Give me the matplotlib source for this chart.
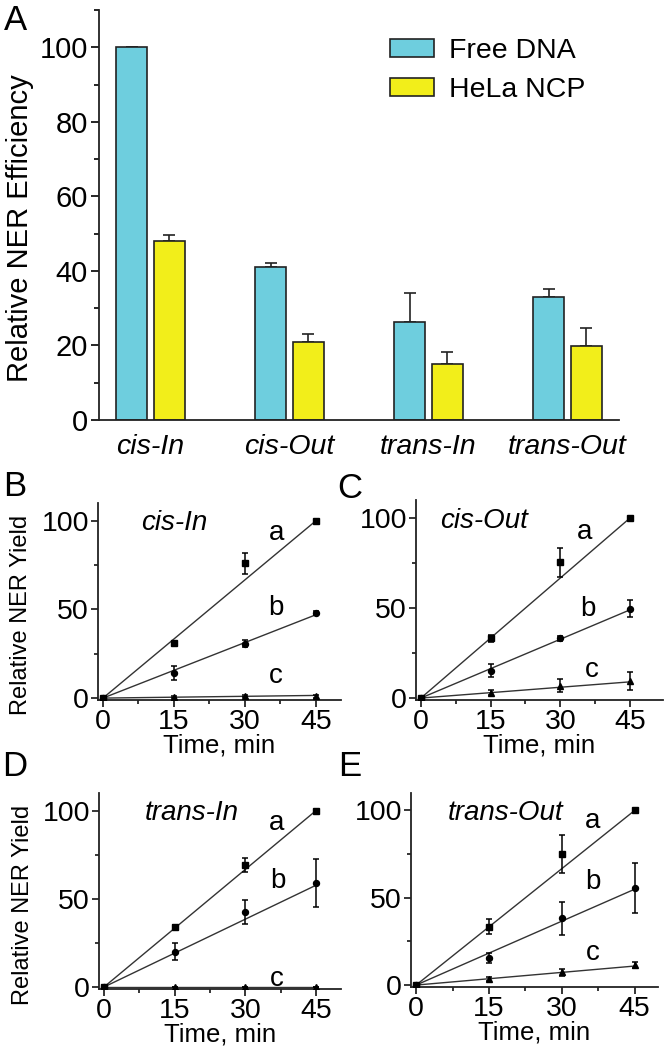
import matplotlib
matplotlib.use('Agg')
import matplotlib.pyplot as plt
from matplotlib.ticker import MultipleLocator

plt.rcParams['font.family'] = ['Liberation Sans', 'DejaVu Sans']

# panel A data
categories = ['cis-In', 'cis-Out', 'trans-In', 'trans-Out']
free_dna = [100, 41, 26.3, 32.9]
free_err = [0, 1.1, 7.9, 2.2]
hela_ncp = [48, 21, 15, 19.8]
hela_err = [1.6, 2.0, 3.3, 4.9]

# time course panels
time = [0, 15, 30, 45]

cisIn_a = [0, 31, 76, 100]
cisIn_a_err = [0, 1, 6, 0.5]
cisIn_b = [0, 14, 30.6, 48]
cisIn_b_err = [0, 4, 2, 1]
cisIn_c = [0, 0.5, 1, 1]
cisIn_c_err = [0, 0.5, 0.5, 1]
cisIn_fit = [100, 47, 1.5]

cisOut_a = [0, 33.1, 75.5, 100]
cisOut_a_err = [0, 2, 8, 0.5]
cisOut_b = [0, 15.3, 33.1, 49.7]
cisOut_b_err = [0, 3.4, 1.5, 4.8]
cisOut_c = [0, 3, 6.8, 9.6]
cisOut_c_err = [0, 1.5, 3.7, 5]
cisOut_fit = [100, 49, 9]

transIn_a = [0, 34, 69.2, 100]
transIn_a_err = [0, 1, 3.8, 0.5]
transIn_b = [0, 20, 42.4, 58.9]
transIn_b_err = [0, 4.8, 6.7, 13.6]
transIn_c = [0, 0, 0, 0]
transIn_c_err = [0, 0, 0, 0]
transIn_fit = [100, 57.7, 0]

transOut_a = [0, 33.5, 75, 100]
transOut_a_err = [0, 4.2, 10.7, 0.5]
transOut_b = [0, 15.7, 38.2, 55.4]
transOut_b_err = [0, 2.9, 9.6, 14.3]
transOut_c = [0, 3.4, 7.3, 11.5]
transOut_c_err = [0, 1, 2, 2]
transOut_fit = [100, 54.9, 10.9]

cyan = '#6ECEDE'
yellow = '#F2EE1A'
dark = '#222222'

fig = plt.figure(figsize=(6.67, 10.5), dpi=100)

# ---- panel A ----
ax = fig.add_axes([0.1484, 0.6, 0.7796, 0.3905])
x = range(len(categories))
xc = [i - 0.135 for i in x]
xy = [i + 0.135 for i in x]
ax.bar(xc, free_dna, width=0.225, color=cyan, edgecolor=dark, linewidth=1.2,
       label='Free DNA', zorder=2)
ax.bar(xy, hela_ncp, width=0.225, color=yellow, edgecolor=dark, linewidth=1.2,
       label='HeLa NCP', zorder=2)
ax.errorbar(xc, free_dna, yerr=[[0]*4, free_err], fmt='none', ecolor=dark,
            elinewidth=1.2, capsize=4, capthick=1.2, zorder=1)
ax.errorbar(xy, hela_ncp, yerr=[[0]*4, hela_err], fmt='none', ecolor=dark,
            elinewidth=1.2, capsize=4, capthick=1.2, zorder=1)
ax.set_xlim(-0.37, 3.37)
ax.set_ylim(0, 110)
ax.set_xticks(list(x))
ax.set_xticklabels(categories, fontsize=20.5, style='italic')
ax.tick_params(axis='x', length=0, pad=10)
ax.set_yticks([0, 20, 40, 60, 80, 100])
ax.yaxis.set_minor_locator(MultipleLocator(10))
ax.tick_params(axis='y', which='major', length=6, width=1.2, labelsize=21, pad=2)
ax.tick_params(axis='y', which='minor', length=3.5, width=1.2)
ax.set_ylabel('Relative NER Efficiency', fontsize=21)
ax.yaxis.set_label_coords(-0.125, 0.468)
for s in ['top', 'right']:
    ax.spines[s].set_visible(False)
for s in ['left', 'bottom']:
    ax.spines[s].set_linewidth(1.3)
    ax.spines[s].set_color(dark)
ax.legend(loc='upper left', bbox_to_anchor=(0.56, 0.932), frameon=False,
          fontsize=20.5, handlelength=1.55, handleheight=0.6,
          handletextpad=0.5, labelspacing=0.46, borderpad=0, borderaxespad=0)


def time_panel(rect, xmax, title, tx, series, errs, fit, lab_pos, ylabel):
    a = fig.add_axes(rect)
    markers = ['s', 'o', '^']
    for ys, es, m, end in zip(series, errs, markers, fit):
        a.plot([0, 45], [0, end], color='#333333', lw=1.0, zorder=2)
        a.errorbar(time, ys, yerr=es, fmt=m, color='black', ms=4.3,
                   elinewidth=1.1, capsize=2.5, capthick=1.1, zorder=3)
    for lab, (lx, ly) in zip(['a', 'b', 'c'], lab_pos):
        a.text(lx, ly, lab, fontsize=20, ha='center', va='center')
    a.text(tx, 98.5, title, fontsize=20, style='italic', ha='center', va='center')
    a.set_xlim(-1.05, xmax)
    a.set_ylim(-1.1, 110)
    a.set_xticks([0, 15, 30, 45])
    a.set_yticks([0, 50, 100])
    a.xaxis.set_minor_locator(MultipleLocator(7.5))
    a.yaxis.set_minor_locator(MultipleLocator(25))
    a.tick_params(which='major', length=5, width=1.1, labelsize=20.5, pad=1.5)
    a.tick_params(which='minor', length=3, width=1.1)
    a.set_xlabel('Time, min', fontsize=18.5, labelpad=-1)
    if ylabel:
        a.set_ylabel('Relative NER Yield', fontsize=17)
        a.yaxis.set_label_coords(-0.27, 0.43)
    for s in ['top', 'right']:
        a.spines[s].set_visible(False)
    for s in ['left', 'bottom']:
        a.spines[s].set_linewidth(1.3)
        a.spines[s].set_color(dark)
    return a


time_panel([0.1469, 0.3333, 0.3643, 0.1876], 50.3, 'cis-In', 15,
           [cisIn_a, cisIn_b, cisIn_c], [cisIn_a_err, cisIn_b_err, cisIn_c_err],
           cisIn_fit, [(36.6, 93), (36.6, 50.8), (36.6, 12.2)], True)
time_panel([0.6237, 0.3333, 0.3703, 0.1905], 52.1, 'cis-Out', 13.5,
           [cisOut_a, cisOut_b, cisOut_c], [cisOut_a_err, cisOut_b_err, cisOut_c_err],
           cisOut_fit, [(35.3, 92), (36, 49.7), (36.7, 15.6)], False)
time_panel([0.1484, 0.0581, 0.3628, 0.1867], 50.3, 'trans-In', 18.6,
           [transIn_a, transIn_b, transIn_c], [transIn_a_err, transIn_b_err, transIn_c_err],
           transIn_fit, [(36.7, 92.7), (37, 60.2), (36.7, 4.8)], True)
time_panel([0.6162, 0.06, 0.3703, 0.1848], 49.8, 'trans-Out', 18.4,
           [transOut_a, transOut_b, transOut_c], [transOut_a_err, transOut_b_err, transOut_c_err],
           transOut_fit, [(36.4, 93.7), (36.4, 59.3), (36.4, 18.5)], False)

# panel letters
for lab, px, py in [('A', 16, 21), ('B', 15, 487), ('C', 350, 488),
                    ('D', 15, 767), ('E', 350, 767)]:
    fig.text(px / 667, 1 - py / 1050, lab, fontsize=25, ha='center', va='center')

fig.savefig('out.png', dpi=100)
